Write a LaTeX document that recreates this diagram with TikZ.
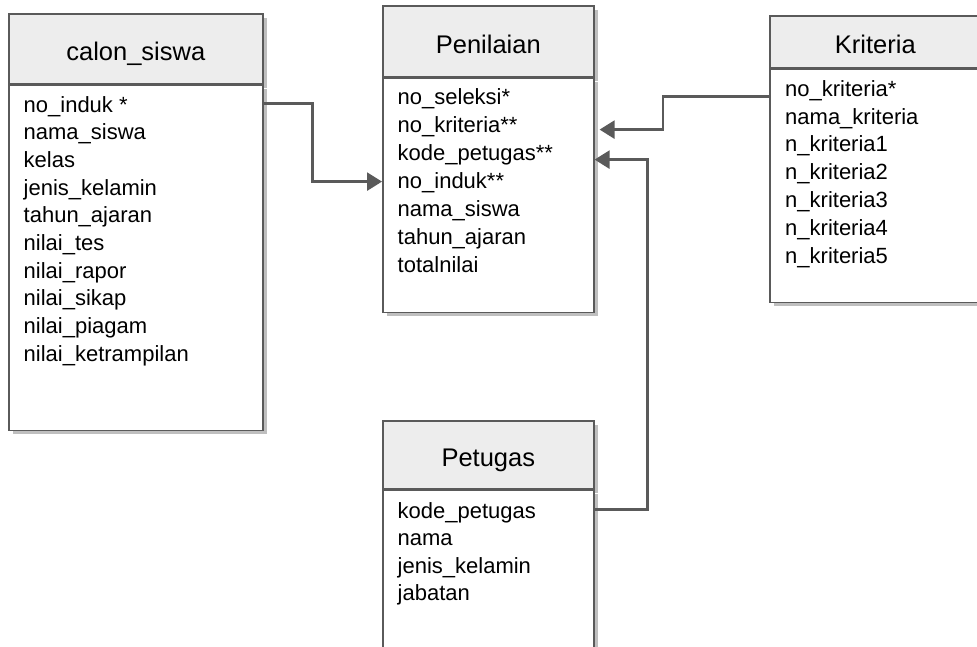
\documentclass[tikz,border=0pt]{standalone}
\usepackage{fontspec}
\setmainfont{Liberation Sans}
\usetikzlibrary{shadows,arrows.meta}
\definecolor{edgec}{HTML}{5A5A5A}
\definecolor{hdrfill}{HTML}{EDEDED}
\definecolor{shd}{HTML}{BFBFBF}
\tikzset{
 tshadow/.style={drop shadow={shadow xshift=4pt,shadow yshift=-4pt,opacity=1,fill=shd}},
 hdr/.style={draw=edgec,line width=1.6pt,fill=hdrfill,tshadow,anchor=north west,inner sep=0pt,text height=24pt,text depth=0pt,font=\fontsize{25.5}{30}\selectfont},
 bodybox/.style={draw=edgec,line width=1.6pt,fill=white,tshadow,anchor=north west,inner sep=0pt},
 attr/.style={anchor=base west,inner sep=0pt,font=\fontsize{22}{26}\selectfont},
 link/.style={draw=edgec,line width=2.6pt,-{Triangle[length=15pt,width=18pt]}},
}
\begin{document}
\begin{tikzpicture}[x=1pt,y=-1pt]
\useasboundingbox (0,0) rectangle (977,646);
\clip (0,0) rectangle (977,646);
\fill[white] (0,0) rectangle (977,646);

% calon_siswa
\node[hdr,minimum width=254pt,minimum height=70pt] (cs) at (8,13) {calon\_siswa};
\node[bodybox,minimum width=254pt,minimum height=345pt] (csb) at (cs.south west) {};
\foreach \t [count=\i from 0] in {no\_induk *,nama\_siswa,kelas,jenis\_kelamin,tahun\_ajaran,nilai\_tes,nilai\_rapor,nilai\_sikap,nilai\_piagam,nilai\_ketrampilan}
  \node[attr] (cs\i) at (23.5,112+27.7*\i) {\t};

% Penilaian
\node[hdr,minimum width=211pt,minimum height=71pt] (pn) at (382,5) {Penilaian};
\node[bodybox,minimum width=211pt,minimum height=234pt] (pnb) at (pn.south west) {};
\foreach \t [count=\i from 0] in {no\_seleksi*,no\_kriteria**,kode\_petugas**,no\_induk**,nama\_siswa,tahun\_ajaran,totalnilai}
  \node[attr] (pn\i) at (397.5,104.5+28*\i) {\t};

% Kriteria
\node[hdr,minimum width=216pt,minimum height=52pt] (kr) at (769,15) {\hspace*{-5pt}Kriteria};
\node[bodybox,minimum width=216pt,minimum height=233pt] (krb) at (kr.south west) {};
\foreach \t [count=\i from 0] in {no\_kriteria*,nama\_kriteria,n\_kriteria1,n\_kriteria2,n\_kriteria3,n\_kriteria4,n\_kriteria5}
  \node[attr] (kr\i) at (785,96.3+27.8*\i) {\t};

% Petugas
\node[hdr,minimum width=211pt,minimum height=68pt] (pg) at (382,420) {Petugas};
\node[bodybox,minimum width=211pt,minimum height=180pt] (pgb) at (pg.south west) {};
\foreach \t [count=\i from 0] in {kode\_petugas,nama,jenis\_kelamin,jabatan}
  \node[attr] (pg\i) at (397.5,518+27.5*\i) {\t};

% connectors
\draw[link] ([yshift=-19pt]csb.north east) -- ++(49,0) |- ([yshift=-104pt]pnb.north west);
\draw[link] ([yshift=-28pt]krb.north west) -- ++(-106,0) |- ([xshift=5pt,yshift=-52pt]pnb.north east);
\draw[link] ([yshift=-20pt]pgb.north east) -- ++(53,0) |- ([yshift=-82pt]pnb.north east);
\end{tikzpicture}
\end{document}
